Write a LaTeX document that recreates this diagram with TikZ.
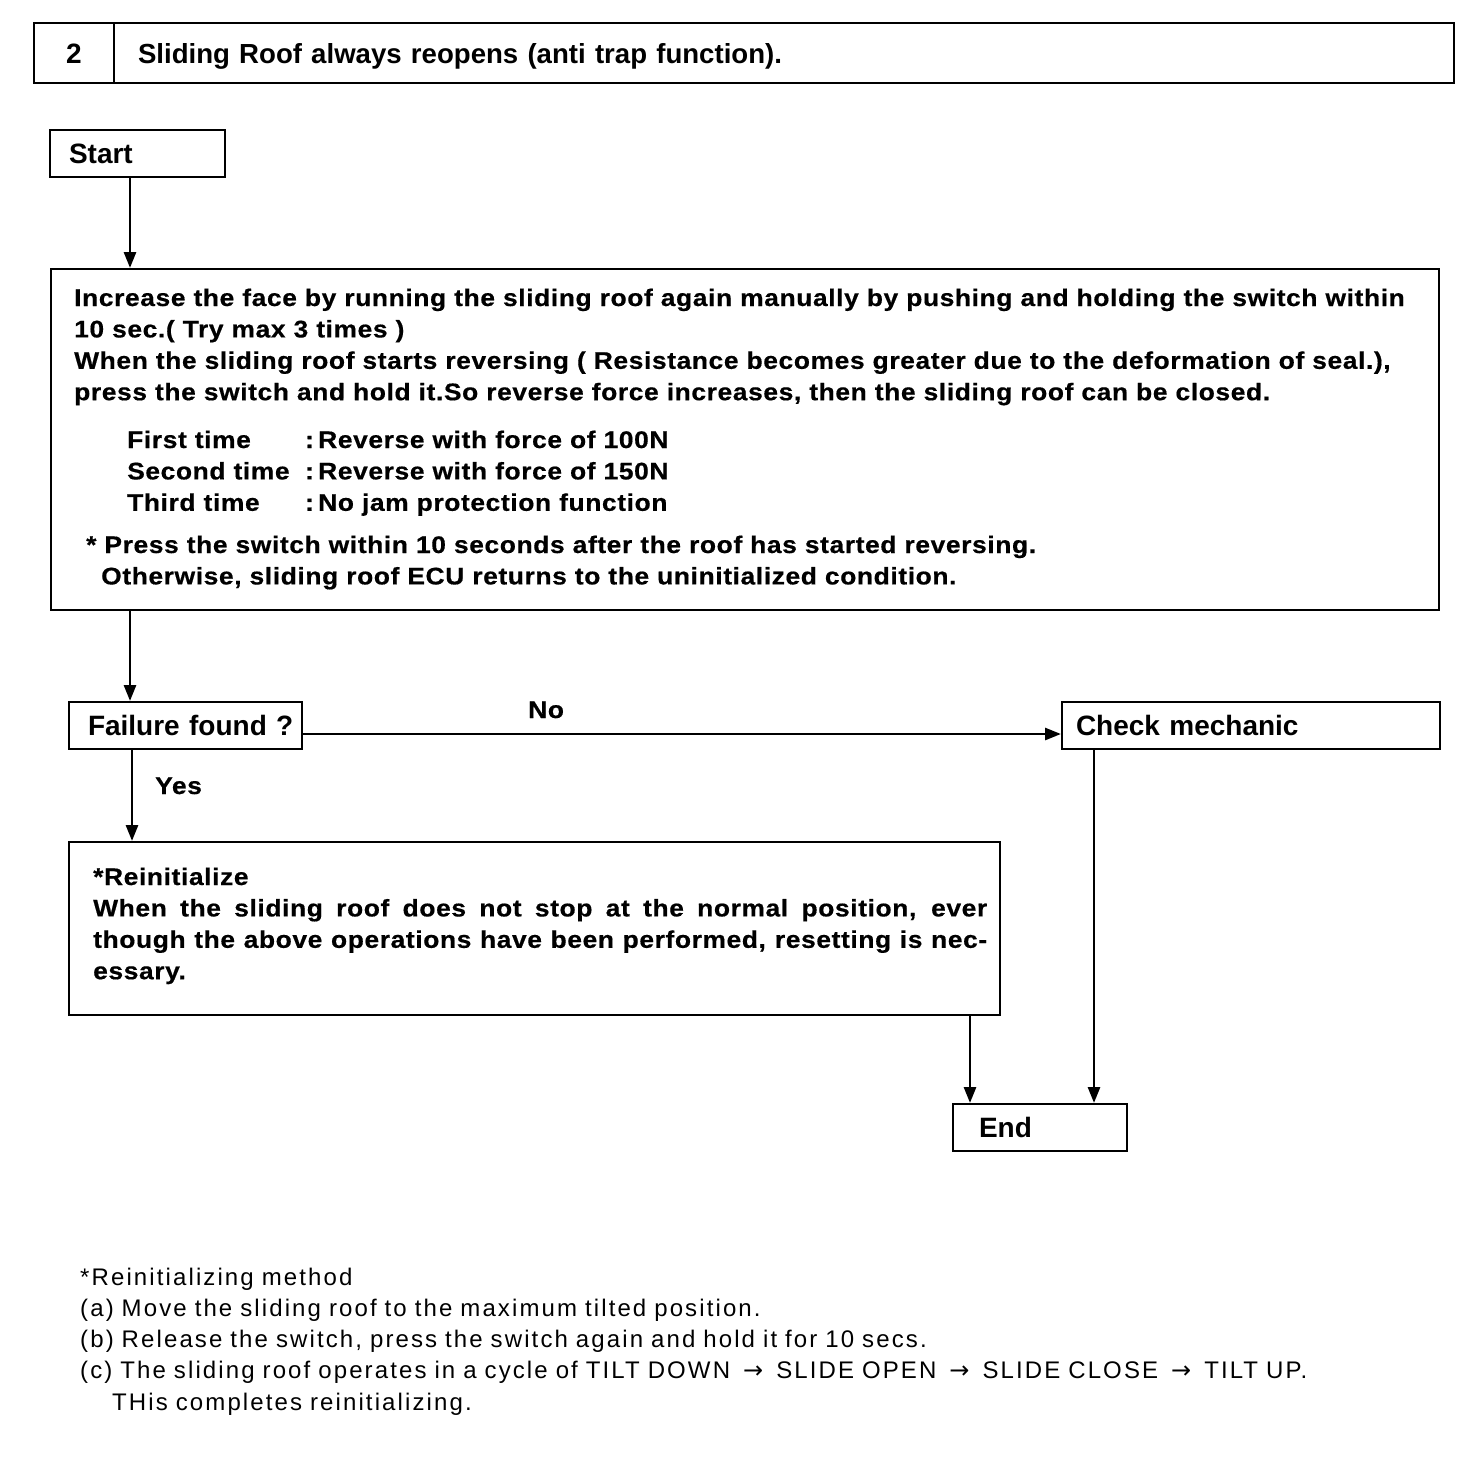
\documentclass[tikz,border=0pt]{standalone}
\usepackage{fontspec}
\setmainfont{Liberation Sans}
\newfontfamily\bodyfam{Liberation Sans}[LetterSpace=2.5, FakeStretch=1.1, BoldFeatures={FakeBold=0.5}]
\newfontfamily\footfam{Liberation Sans}[LetterSpace=8.8]
\newfontfamily\arrowfam{DejaVu Sans}
\newcommand{\myarrow}{\hspace{5pt}{\arrowfam\fontsize{24}{31}\selectfont →}\hspace{5pt}}
\usetikzlibrary{arrows.meta}
\tikzset{
  box/.style={draw, line width=2pt, anchor=north west, inner sep=0pt},
  lbl/.style 2 args={box, minimum width=#1, text width=#1pt, align=left,
    minimum height=47, text height=20.2pt, text depth=0pt,
    font=\fontsize{28}{32}\selectfont\bfseries,
    execute at begin node={\hspace*{#2pt}}},
  bodytxt/.style={anchor=base west, inner sep=0pt, text width=1380pt, align=left,
    font=\bodyfam\fontsize{24}{31.4}\selectfont\bfseries},
  foot/.style={anchor=base west, inner sep=0pt, text width=1380pt, align=left,
    font=\footfam\fontsize{24}{31.3}\selectfont},
  lab/.style={anchor=base west, inner sep=0pt, font=\bodyfam\fontsize{24}{31.3}\selectfont\bfseries},
  arr/.style={line width=2.8pt, -{Triangle[length=16pt,width=12pt]}},
}
\begin{document}
\begin{tikzpicture}[x=1pt,y=-1pt]
\fill[white] (0,0) rectangle (1472,1462);
\useasboundingbox (0,0) rectangle (1472,1462);

% header
\node[box, minimum width=80, minimum height=60, text height=20.2pt, text depth=0pt,
  font=\fontsize{28}{32}\selectfont\bfseries] (num) at (33,22) {2};
\node[lbl={1340}{24}, minimum height=60, font=\fontsize{27.6}{32}\selectfont\bfseries] (title) at (113,22) {Sliding Roof always reopens (anti trap function).};

% start
\node[lbl={175}{19}] (start) at (49,129) {Start};

% main box
\node[box, minimum width=1388, minimum height=341] (main) at (50,268) {};
\node[bodytxt] (mtxt1) at (74,306) {Increase the face by running the sliding roof again manually by pushing and holding the switch within\\
10 sec.( Try max 3 times )\\
When the sliding roof starts reversing ( Resistance becomes greater due to the deformation of seal.),\\
press the switch and hold it.So reverse force increases, then the sliding roof can be closed.};
\node[bodytxt] (mtxt2) at (127,448) {\makebox[178pt][l]{First time}\makebox[13pt][l]{:}Reverse with force of 100N\\
\makebox[178pt][l]{Second time}\makebox[13pt][l]{:}Reverse with force of 150N\\
\makebox[178pt][l]{Third time}\makebox[13pt][l]{:}No jam protection function};
\node[bodytxt] (mtxt3) at (86,553) {* Press the switch within 10 seconds after the roof has started reversing.\\
\hspace*{15pt}Otherwise, sliding roof ECU returns to the uninitialized condition.};

% decision and check
\node[lbl={233}{19}] (fail) at (68,701) {Failure found ?};
\node[lbl={378}{14}] (check) at (1061,701) {Check mechanic};

% reinitialize box
\node[box, minimum width=931, minimum height=173] (reinit) at (68,841) {};
\node[bodytxt, execute at begin node={\spaceskip=.3em plus 3em minus .05em}] (rtxt) at (93,885) {*Reinitialize\\
\makebox[894pt][s]{When the sliding roof does not stop at the normal position, ever}\\
\makebox[894pt][s]{though the above operations have been performed, resetting is nec-}\\
essary.};

% end
\node[lbl={174}{26}] (end) at (952,1103) {End};

% labels
\node[lab] (yes) at (155,794) {Yes};
\node[lab] (no) at (528,718) {No};

% connectors
\coordinate (s1) at ([xshift=-7.5pt]start.south);
\draw[arr] (s1) -- (s1 |- main.north);
\coordinate (m1) at ([xshift=-615pt]main.south);
\draw[arr] (m1) -- (m1 |- fail.north);
\coordinate (f1) at ([xshift=-53.5pt]fail.south);
\draw[arr] (f1) -- (f1 |- reinit.north);
\coordinate (f2) at ([yshift=-8.5pt]fail.east);
\draw[arr] (f2) -- (f2 -| check.west);
\coordinate (c1) at ([xshift=-157pt]check.south);
\draw[arr] (c1) -- (c1 |- end.north);
\coordinate (r1) at ([xshift=-31pt]reinit.south east);
\draw[arr] (r1) -- (r1 |- end.north);

% footnote
\node[foot] (note) at (80,1285) {*Reinitializing method\\
(a) Move the sliding roof to the maximum tilted position.\\
(b) Release the switch, press the switch again and hold it for 10 secs.\\
(c) The sliding roof operates in a cycle of TILT DOWN \myarrow{} SLIDE OPEN \myarrow{} SLIDE CLOSE \myarrow{} TILT UP.\\
\hspace*{32pt}THis completes reinitializing.};
\end{tikzpicture}
\end{document}
